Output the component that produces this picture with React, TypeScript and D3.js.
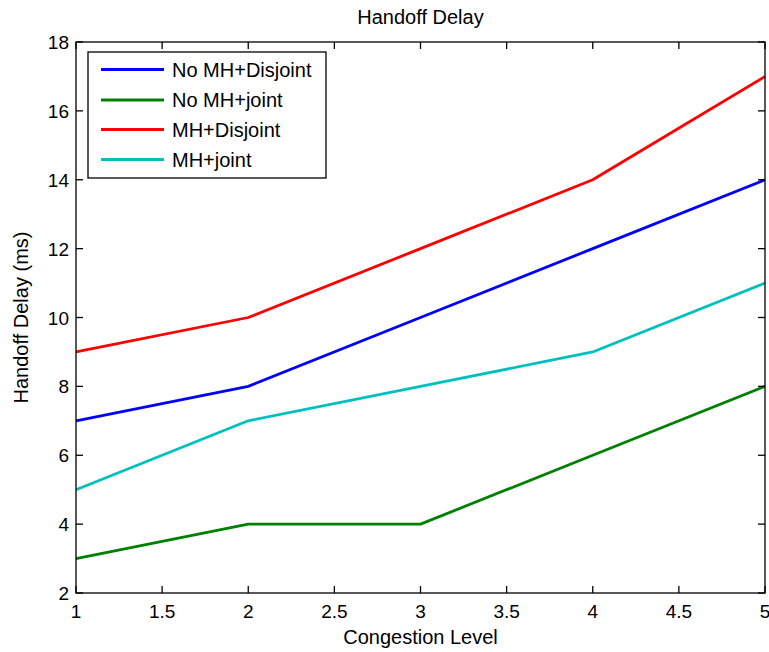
import React, { useEffect, useRef } from "react";
import * as d3 from "d3";

const congestion = [1, 2, 3, 4, 5];
const noMhDisjoint = [7, 8, 10, 12, 14];
const noMhJoint = [3, 4, 4, 6, 8];
const mhDisjoint = [9, 10, 12, 14, 17];
const mhJoint = [5, 7, 8, 9, 11];

const seriesNames = ["No MH+Disjoint", "No MH+joint", "MH+Disjoint", "MH+joint"];
const seriesColors = ["#0000ff", "#008000", "#ff0000", "#00bfbf"];

const xTicks = [1, 1.5, 2, 2.5, 3, 3.5, 4, 4.5, 5];
const yTicks = [2, 4, 6, 8, 10, 12, 14, 16, 18];

const W = 769;
const H = 652;
const FONT = "'Liberation Sans', Arial, Helvetica, sans-serif";

export default function App() {
  const ref = useRef<SVGSVGElement>(null);

  useEffect(() => {
    const svg = d3.select(ref.current);
    svg.selectAll("*").remove();

    const m = { l: 76, r: 4, t: 42, b: 59 };
    const x = d3.scaleLinear().domain([1, 5]).range([m.l, W - m.r]);
    const y = d3.scaleLinear().domain([2, 18]).range([H - m.b, m.t]);
    const tick = 7;

    svg.append("rect").attr("width", W).attr("height", H).attr("fill", "#fff");

    const data = [noMhDisjoint, noMhJoint, mhDisjoint, mhJoint];
    const line = d3
      .line<number>()
      .x((d, i) => x(congestion[i]))
      .y((d) => y(d));

    const plot = svg.append("g");
    data.forEach((s, i) => {
      plot
        .append("path")
        .datum(s)
        .attr("d", line)
        .attr("fill", "none")
        .attr("stroke", seriesColors[i])
        .attr("stroke-width", 2.8)
        .attr("stroke-linejoin", "round");
    });

    // axes box, MATLAB style ticks on all four sides pointing inward
    const ax = svg.append("g").attr("stroke", "#000").attr("stroke-width", 1.3);
    ax.append("rect")
      .attr("x", x(1))
      .attr("y", y(18))
      .attr("width", x(5) - x(1))
      .attr("height", y(2) - y(18))
      .attr("fill", "none");
    xTicks.forEach((t) => {
      ax.append("line").attr("x1", x(t)).attr("x2", x(t)).attr("y1", y(2)).attr("y2", y(2) - tick);
      ax.append("line").attr("x1", x(t)).attr("x2", x(t)).attr("y1", y(18)).attr("y2", y(18) + tick);
    });
    yTicks.forEach((t) => {
      ax.append("line").attr("x1", x(1)).attr("x2", x(1) + tick).attr("y1", y(t)).attr("y2", y(t));
      ax.append("line").attr("x1", x(5)).attr("x2", x(5) - tick).attr("y1", y(t)).attr("y2", y(t));
    });

    const txt = svg.append("g").attr("font-family", FONT).attr("fill", "#000");
    xTicks.forEach((t) => {
      txt.append("text")
        .attr("x", x(t))
        .attr("y", y(2) + 25)
        .attr("text-anchor", "middle")
        .attr("font-size", 19)
        .text(String(t));
    });
    yTicks.forEach((t) => {
      txt.append("text")
        .attr("x", x(1) - 7)
        .attr("y", y(t) + 7)
        .attr("text-anchor", "end")
        .attr("font-size", 19)
        .text(String(t));
    });

    txt.append("text")
      .attr("x", (x(1) + x(5)) / 2)
      .attr("y", 24)
      .attr("text-anchor", "middle")
      .attr("font-size", 20)
      .text("Handoff Delay");
    txt.append("text")
      .attr("x", (x(1) + x(5)) / 2)
      .attr("y", 644)
      .attr("text-anchor", "middle")
      .attr("font-size", 20)
      .text("Congestion Level");
    txt.append("text")
      .attr("transform", `translate(28,${(y(2) + y(18)) / 2}) rotate(-90)`)
      .attr("text-anchor", "middle")
      .attr("font-size", 20)
      .text("Handoff Delay (ms)");

    // legend
    const lg = svg.append("g");
    lg.append("rect")
      .attr("x", 88)
      .attr("y", 52)
      .attr("width", 238)
      .attr("height", 126)
      .attr("fill", "#fff")
      .attr("stroke", "#000")
      .attr("stroke-width", 1.3);
    const rowY = [69.5, 100, 129.5, 159.5];
    seriesNames.forEach((n, i) => {
      lg.append("line")
        .attr("x1", 101)
        .attr("x2", 164)
        .attr("y1", rowY[i])
        .attr("y2", rowY[i])
        .attr("stroke", seriesColors[i])
        .attr("stroke-width", 2.8);
      lg.append("text")
        .attr("x", 172)
        .attr("y", rowY[i] + 7)
        .attr("font-family", FONT)
        .attr("font-size", 20)
        .text(n);
    });
  }, []);

  return (
    <svg
      ref={ref}
      width={W}
      height={H}
      style={{ position: "absolute", left: 0, top: 0 }}
    />
  );
}
